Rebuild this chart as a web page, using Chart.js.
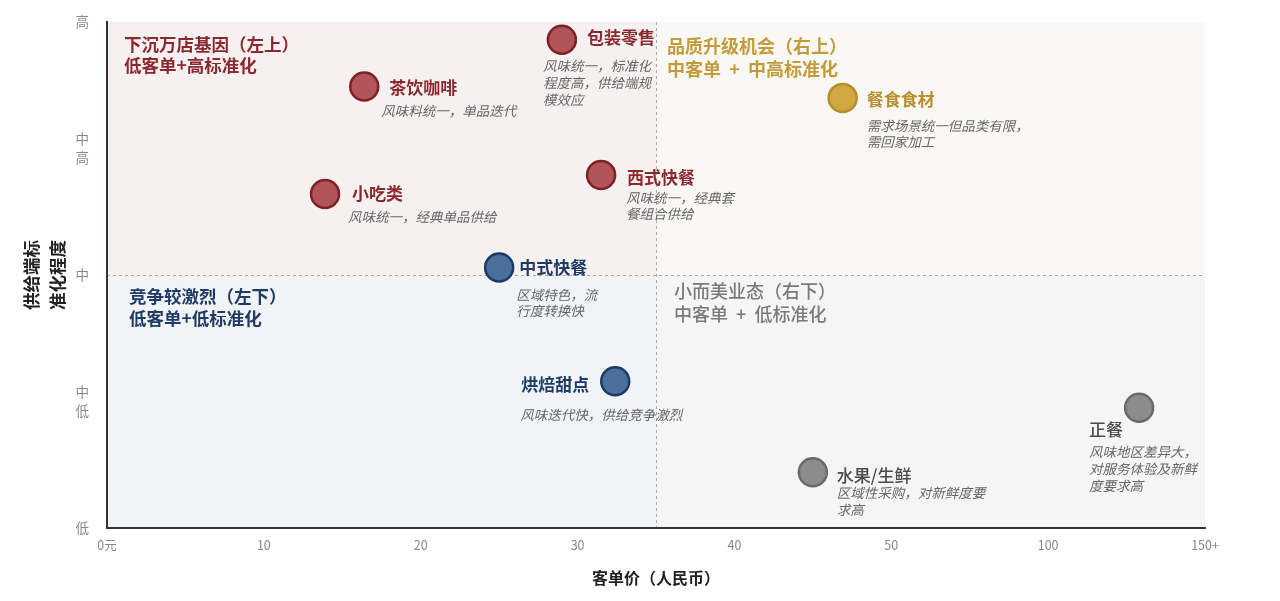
<!DOCTYPE html>
<html lang="zh">
<head>
<meta charset="utf-8">
<script src="https://cdn.jsdelivr.net/npm/chart.js@4.4.1/dist/chart.umd.min.js"></script>
<style>
html, body { margin: 0; padding: 0; background: #fff; }
#wrap { width: 1280px; height: 601px; }
</style>
</head>
<body>
<div id="wrap"><canvas id="matrix"></canvas></div>
<script>
/// data
const CATEGORIES = ['包装零售', '茶饮咖啡', '小吃类', '西式快餐', '餐食食材', '中式快餐', '烘焙甜点', '水果/生鲜', '正餐'];
const PRICES = [29, 16.4, 13.9, 31.5, 46.9, 25, 32.4, 45, 129];        // 客单价 (元)
const STANDARD = [3.86, 3.49, 2.64, 2.79, 3.40, 2.06, 1.16, 0.44, 0.95]; // 0=低 .. 4=高
const GROUPS = ['red', 'red', 'red', 'red', 'gold', 'blue', 'blue', 'grey', 'grey'];
const NOTES = [
    ['风味统一，标准化', '程度高，供给端规', '模效应'],
    ['风味料统一，单品迭代'],
    ['风味统一，经典单品供给'],
    ['风味统一，经典套', '餐组合供给'],
    ['需求场景统一但品类有限，', '需回家加工'],
    ['区域特色，流', '行度转换快'],
    ['风味迭代快，供给竞争激烈'],
    ['区域性采购，对新鲜度要', '求高'],
    ['风味地区差异大，', '对服务体验及新鲜', '度要求高']
];
const X_TICK_VALUES = [0, 10, 20, 30, 40, 50, 100, 150];
const X_TICK_LABELS = ['0元', '10', '20', '30', '40', '50', '100', '150+'];
const Y_TICK_LABELS = ['低', ['中', '低'], '中', ['中', '高'], '高'];
const PRICE_SPLIT = 35;
const LEVEL_SPLIT = 2;
const QUADRANT_TITLES = [
    ['下沉万店基因（左上）', '低客单+高标准化'],
    ['品质升级机会（右上）', '中客单  +  中高标准化'],
    ['竞争较激烈（左下）', '低客单+低标准化'],
    ['小而美业态（右下）', '中客单  +  低标准化']
];

/// styles
const FONT = '"Noto Sans CJK SC", "Noto Sans", sans-serif';
const COLORS = {
    red:  { fill: '#b0555a', border: '#7e2026', label: '#8a2a30', bold: true },
    gold: { fill: '#d2a642', border: '#b88e2a', label: '#b88f2e', bold: true },
    blue: { fill: '#4b6e9a', border: '#1b3a64', label: '#1e3c66', bold: true },
    grey: { fill: '#8c8c8c', border: '#6a6a6a', label: '#4a4a4a', bold: false }
};
// label offsets from the point centre: [labelDx, labelDy, align, noteDx, noteDy, noteLineHeight]
const LABEL_OFFSETS = [
    [25, -2, 'left', -19, 26, 17],
    [25, 1, 'left', 17, 24, 17],
    [27, 0, 'left', 23, 23, 17],
    [26, 2, 'left', 25, 23, 16],
    [24, 2, 'left', 24, 28, 16],
    [20, 0, 'left', 17, 27, 16],
    [-26, 3, 'right', -95, 34, 17],
    [24, 3, 'left', 24, 21, 17],
    [-50, 22, 'left', -50, 44, 17]
];
const QUADRANT_FILL = ['#f7f0f0', '#faf8f4', '#f1f3f7', '#f5f5f5'];
const QUADRANT_TEXT = [
    { color: '#8a2a30', weight: 'bold', size: 17.5 },
    { color: '#c29c3a', weight: 'bold', size: 18 },
    { color: '#1e3c66', weight: 'bold', size: 17.5 },
    { color: '#7a7a7a', weight: '500', size: 18 }
];

// map a price onto the piecewise axis (ticks evenly spaced)
function pricePos(p) {
    for (let i = 0; i < X_TICK_VALUES.length - 1; i++) {
        if (p <= X_TICK_VALUES[i + 1]) {
            return i + (p - X_TICK_VALUES[i]) / (X_TICK_VALUES[i + 1] - X_TICK_VALUES[i]);
        }
    }
    return X_TICK_VALUES.length - 1;
}

const points = CATEGORIES.map((c, i) => ({ x: pricePos(PRICES[i]), y: STANDARD[i] }));

// quadrant background + dashed split lines
const quadrantPlugin = {
    id: 'quadrants',
    beforeDraw(chart) {
        const { ctx, chartArea: a, scales } = chart;
        const mx = scales.x.getPixelForValue(pricePos(PRICE_SPLIT));
        const my = scales.y.getPixelForValue(LEVEL_SPLIT);
        ctx.save();
        ctx.fillStyle = QUADRANT_FILL[0]; ctx.fillRect(a.left, a.top, mx - a.left, my - a.top);
        ctx.fillStyle = QUADRANT_FILL[1]; ctx.fillRect(mx, a.top, a.right - mx, my - a.top);
        ctx.fillStyle = QUADRANT_FILL[2]; ctx.fillRect(a.left, my, mx - a.left, a.bottom - my);
        ctx.fillStyle = QUADRANT_FILL[3]; ctx.fillRect(mx, my, a.right - mx, a.bottom - my);

        ctx.strokeStyle = '#a8a8a8';
        ctx.lineWidth = 1;
        ctx.setLineDash([3, 3]);
        ctx.beginPath();
        ctx.moveTo(mx + 0.5, a.top); ctx.lineTo(mx + 0.5, a.bottom);
        ctx.moveTo(a.left, my + 0.5); ctx.lineTo(a.right, my + 0.5);
        ctx.stroke();
        ctx.setLineDash([]);

        // quadrant titles
        const spots = [
            [a.left + 17, a.top + 22, 21],
            [mx + 11, a.top + 24, 23],
            [a.left + 22, my + 21, 22],
            [mx + 18, my + 16, 23]
        ];
        ctx.textBaseline = 'middle';
        ctx.textAlign = 'left';
        QUADRANT_TITLES.forEach((lines, q) => {
            const st = QUADRANT_TEXT[q];
            ctx.fillStyle = st.color;
            ctx.font = `${st.weight} ${st.size}px ${FONT}`;
            lines.forEach((t, k) => ctx.fillText(t, spots[q][0], spots[q][1] + k * spots[q][2]));
        });
        ctx.restore();
    }
};

// category names and notes next to each bubble
const labelPlugin = {
    id: 'pointLabels',
    afterDatasetsDraw(chart) {
        const { ctx } = chart;
        const meta = chart.getDatasetMeta(0);
        ctx.save();
        ctx.textBaseline = 'middle';
        meta.data.forEach((el, i) => {
            const c = COLORS[GROUPS[i]];
            const o = LABEL_OFFSETS[i];
            ctx.fillStyle = c.label;
            ctx.font = `${c.bold ? 'bold' : '500'} 17px ${FONT}`;
            ctx.textAlign = o[2];
            ctx.fillText(CATEGORIES[i], el.x + o[0], el.y + o[1]);

            ctx.fillStyle = '#666';
            ctx.font = `italic 13.5px ${FONT}`;
            ctx.textAlign = 'left';
            NOTES[i].forEach((t, k) => ctx.fillText(t, el.x + o[3], el.y + o[4] + k * o[5]));
        });
        ctx.restore();
    }
};

const config = {
    type: 'scatter',
    data: {
        datasets: [{
            data: points,
            pointRadius: 14,
            pointBorderWidth: 2.5,
            backgroundColor: ctx => COLORS[GROUPS[ctx.dataIndex]].fill,
            borderColor: ctx => COLORS[GROUPS[ctx.dataIndex]].border
        }]
    },
    options: {
        responsive: true,
        maintainAspectRatio: false,
        animation: false,
        events: [],
        layout: { padding: { top: 22, right: 75, left: 0, bottom: 0 } },
        plugins: {
            legend: { display: false },
            tooltip: { enabled: false }
        },
        scales: {
            x: {
                type: 'linear',
                min: 0,
                max: X_TICK_LABELS.length - 1,
                afterBuildTicks: s => { s.ticks = X_TICK_LABELS.map((_, i) => ({ value: i })); },
                afterFit: s => { s.height = 73; s.paddingLeft = 0; s.paddingRight = 0; },
                grid: { color: 'transparent', drawTicks: false },
                border: { color: '#333', width: 2 },
                ticks: {
                    padding: 10,
                    color: '#888',
                    font: { family: FONT, size: 12.5 },
                    callback: v => X_TICK_LABELS[v]
                },
                title: {
                    display: true,
                    text: '客单价（人民币）',
                    color: '#222',
                    font: { family: FONT, size: 16, weight: 'bold' },
                    padding: { top: 0, bottom: 13 }
                }
            },
            y: {
                type: 'linear',
                min: 0,
                max: Y_TICK_LABELS.length - 1,
                afterBuildTicks: s => { s.ticks = Y_TICK_LABELS.map((_, i) => ({ value: i })); },
                afterFit: s => { s.width = 107; s.paddingTop = 0; s.paddingBottom = 0; },
                grid: { color: 'transparent', drawTicks: false },
                border: { color: '#333', width: 2 },
                ticks: {
                    padding: 18,
                    color: '#888',
                    font: { family: FONT, size: 13.5, lineHeight: 1.45 },
                    callback: v => Y_TICK_LABELS[v]
                },
                title: {
                    display: true,
                    text: ['供给端标', '准化程度'],
                    color: '#222',
                    font: { family: FONT, size: 17.5, weight: 'bold', lineHeight: 1.5 },
                    padding: { top: 18, bottom: 0 }
                }
            }
        }
    },
    plugins: [quadrantPlugin, labelPlugin]
};

const matrixChart = new Chart(document.getElementById('matrix').getContext('2d'), config);
</script>
</body>
</html>
